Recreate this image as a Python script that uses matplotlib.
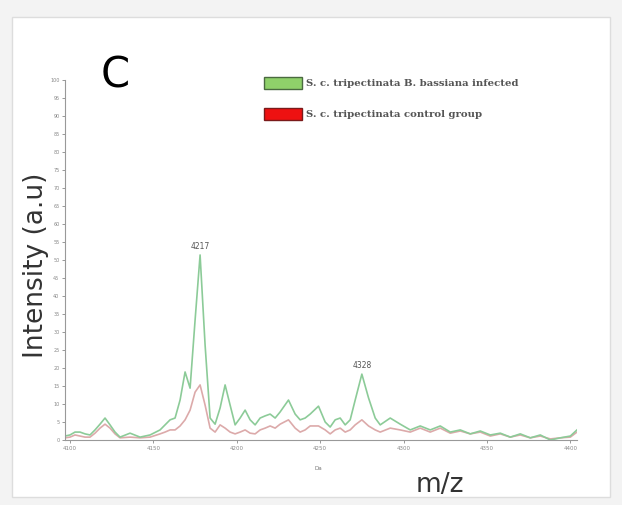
import matplotlib.pyplot as plt
from matplotlib.patches import Patch, Rectangle

# m/z positions shared by both spectra
mz = [4097, 4100, 4103, 4106, 4109, 4112, 4115, 4118, 4121, 4124, 4127, 4130,
      4136, 4142, 4148, 4154, 4157, 4160, 4163, 4166, 4169, 4172, 4175, 4178,
      4181, 4184, 4187, 4190, 4193, 4196, 4199, 4202, 4205, 4208, 4211, 4214,
      4217, 4220, 4223, 4226, 4231, 4235, 4238, 4241, 4244, 4249, 4253, 4256,
      4259, 4262, 4265, 4268, 4271, 4275, 4279, 4283, 4286, 4292, 4298, 4304,
      4310, 4316, 4322, 4328, 4334, 4340, 4346, 4352, 4358, 4364, 4370, 4376,
      4382, 4388, 4394, 4400, 4404]

infected = [1.1, 1.4, 2.2, 2.2, 1.7, 1.4, 2.8, 4.4, 6.1, 4.2, 2.2, 0.8,
            1.9, 0.8, 1.4, 2.8, 4.2, 5.6, 6.1, 11.1, 18.9, 14.4, 33.3, 51.4,
            26.4, 6.1, 4.4, 8.9, 15.3, 9.7, 4.2, 6.1, 8.3, 5.6, 4.2, 6.1,
            6.7, 7.2, 6.1, 7.8, 11.1, 7.2, 5.6, 6.1, 7.2, 9.4, 5.0, 3.6,
            5.6, 6.1, 4.2, 5.6, 11.1, 18.3, 11.7, 6.1, 4.2, 6.1, 4.4, 2.8,
            3.9, 2.8, 3.9, 2.2, 2.8, 1.7, 2.5, 1.4, 1.9, 0.8, 1.7, 0.6,
            1.4, 0.0, 0.6, 1.1, 2.8]

control = [0.6, 0.8, 1.4, 1.1, 0.8, 0.8, 1.9, 3.3, 4.4, 3.3, 1.7, 0.6,
           0.8, 0.6, 0.8, 1.7, 2.2, 2.8, 2.8, 3.9, 5.6, 8.3, 13.3, 15.3,
           9.7, 3.3, 2.2, 4.2, 3.3, 2.2, 1.7, 2.2, 2.8, 1.9, 1.7, 2.8,
           3.3, 3.9, 3.3, 4.4, 5.6, 3.3, 2.2, 2.8, 3.9, 3.9, 2.8, 1.7,
           2.8, 3.3, 2.2, 2.8, 4.2, 5.6, 3.9, 2.8, 2.2, 3.3, 2.8, 2.2,
           3.3, 2.2, 3.3, 1.9, 2.5, 1.7, 2.2, 1.1, 1.7, 0.8, 1.4, 0.6,
           1.1, 0.3, 0.6, 0.8, 2.2]

x_ticks = [4100, 4150, 4200, 4250, 4300, 4350, 4400]
y_ticks = list(range(0, 101, 5))
peak_mz = [4178, 4275]
peak_int = [51.4, 18.3]
peak_labels = ["4217", "4328"]
series_labels = ["S. c. tripectinata B. bassiana infected",
                 "S. c. tripectinata control group"]


def main():
    W, H = 622, 505
    fig = plt.figure(figsize=(W / 100, H / 100), dpi=100)
    fig.patch.set_facecolor("#f3f3f3")
    # white panel with faint border, like the scanned figure
    fig.patches.append(Rectangle((12 / W, 8 / H), 598 / W, 480 / H,
                                 transform=fig.transFigure, facecolor="white",
                                 edgecolor="#dddddd", lw=1, zorder=-5))

    ax = fig.add_axes([65 / W, (H - 440) / H, 512 / W, 360 / H])
    ax.set_zorder(2)
    ax.set_facecolor("none")
    ax.plot(mz, control, color="#dcaaaa", lw=1.2)
    ax.plot(mz, infected, color="#8ccb98", lw=1.2)

    ax.set_xlim(4097, 4404)
    ax.set_ylim(0, 100)
    ax.set_xticks(x_ticks)
    ax.set_xticklabels([str(t) for t in x_ticks], fontsize=4, color="#666666")
    ax.set_yticks(y_ticks)
    ax.set_yticklabels([str(t) for t in y_ticks], fontsize=3.5, color="#666666")
    ax.tick_params(length=2, width=0.6, colors="#888888", pad=2)
    for s in ["top", "right"]:
        ax.spines[s].set_visible(False)
    for s in ["left", "bottom"]:
        ax.spines[s].set_color("#999999")
        ax.spines[s].set_linewidth(0.8)

    for xm, yi, lab in zip(peak_mz, peak_int, peak_labels):
        ax.annotate(lab, (xm, yi), xytext=(0, 3), textcoords="offset points",
                    ha="center", va="bottom", fontsize=5.5, color="#555555")

    fig.text(318 / W, (H - 470) / H, "Da", fontsize=4, color="#777777", ha="center")
    fig.text(115 / W, (H - 75) / H, "C", fontsize=30, va="center", ha="center")
    fig.text(36 / W, (H - 265) / H, "Intensity (a.u)", fontsize=19,
             rotation=90, va="center", ha="center", color="#333333")
    fig.text(440 / W, (H - 485) / H, "m/z", fontsize=19, va="center",
             ha="center", color="#333333")

    handles = [Patch(facecolor="#8fd16a", edgecolor="#4a6a40", lw=1),
               Patch(facecolor="#ee1111", edgecolor="#7a1a1a", lw=1)]
    fig.legend(handles, series_labels, loc="upper left",
               bbox_to_anchor=(255 / W, (H - 68) / H), frameon=False,
               prop={"family": "serif", "weight": "bold", "size": 7.3},
               labelcolor="#555555", handlelength=3.7, handleheight=1.4,
               labelspacing=1.9, handletextpad=0.4)

    fig.savefig("out.png", dpi=100, facecolor=fig.get_facecolor())
    plt.close(fig)


if __name__ == "__main__":
    main()
